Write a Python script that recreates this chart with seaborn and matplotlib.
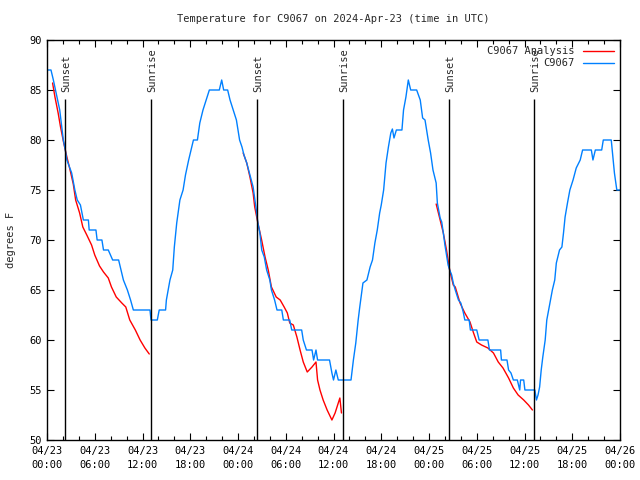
import numpy as np
import pandas as pd
import matplotlib
matplotlib.use("Agg")
import matplotlib.pyplot as plt
import matplotlib.dates as mdates
from matplotlib.lines import Line2D
import seaborn as sns

# Observed temperature (hours after 2024-04-23 00:00 UTC, degrees F)
obs_hours = [
    0.1, 0.5, 0.8, 1.2, 1.6, 2.05, 2.3, 2.5, 3.1, 3.5, 3.8, 4.2, 4.57, 5.2, 5.3,
    6.15, 6.3, 6.9, 7.1, 7.7, 8.25, 9.0, 9.3, 9.6, 10.1, 10.5, 10.85, 12.94,
    13.07, 13.86, 14.1, 14.9, 15.0, 15.45, 15.8, 16.0, 16.3, 16.7, 17.1, 17.4,
    17.8, 18.4, 18.9, 19.2, 19.6, 20.0, 20.4, 21.65, 21.95, 22.2, 22.7, 23.0,
    23.4, 23.8, 24.2, 24.5, 24.75, 25.1, 25.5, 25.9, 26.3, 26.5, 26.75, 26.98,
    27.3, 27.6, 28.0, 28.2, 28.6, 28.9, 29.5, 29.7, 30.5, 30.75, 32.0, 32.2,
    32.6, 33.3, 33.5, 33.8, 34.0, 35.5, 35.8, 36.0, 36.3, 36.6, 38.2, 38.5,
    38.8, 39.1, 39.3, 39.7, 40.2, 40.6, 40.9, 41.2, 41.5, 41.8, 42.0, 42.3,
    42.6, 42.9, 43.2, 43.4, 43.6, 43.9, 44.6, 44.8, 45.1, 45.4, 45.7, 46.45,
    46.9, 47.2, 47.5, 47.9, 48.2, 48.5, 48.9, 49.05, 49.4, 49.6, 49.8, 50.0,
    50.2, 50.4, 50.6, 50.85, 51.05, 51.3, 51.7, 52.0, 52.3, 52.5, 53.05, 53.2,
    54.0, 54.3, 55.4, 55.6, 57.0, 57.1, 57.8, 58.0, 58.3, 58.6, 59.1, 59.4,
    59.5, 59.9, 60.05, 61.3, 61.5, 61.7, 61.9, 62.1, 62.3, 62.6, 62.8, 63.2,
    63.5, 63.8, 64.0, 64.4, 64.7, 64.9, 65.1, 65.4, 65.7, 66.1, 66.5, 67.0,
    67.3, 68.4, 68.6, 68.9, 69.7, 69.9, 70.9, 71.1, 71.3, 71.6, 72.0,
]
obs_temps = [
    87, 87, 86, 84.5, 83, 80, 79, 78, 76.7, 75, 74, 73.5, 72, 72, 71,
    71, 70, 70, 69, 69, 68, 68, 67, 66, 65, 64, 63, 63,
    62, 62, 63, 63, 64, 66, 67, 69.3, 71.7, 74, 75, 76.5,
    78, 80, 80, 81.7, 83, 84, 85, 85, 86, 85, 85, 84,
    83, 82, 80, 79.3, 78.5, 77.7, 76.5, 75.3, 73, 71.7, 70.7, 69,
    68.3, 67, 66, 65, 64, 63, 63, 62, 62, 61, 61, 60,
    59, 59, 58, 59, 58, 58, 56.7, 56, 57, 56, 56, 58,
    59.7, 62, 63.3, 65.7, 66, 67.3, 68, 69.7, 71, 72.7, 73.5, 75,
    77.7, 79.3, 80.7, 81.1, 80.2, 81, 81, 83, 84.3, 86, 85, 85,
    84, 82.2, 82, 80, 78.7, 77, 75.7, 73.7, 72.2, 71.8, 70.7, 69.5,
    68.5, 67.5, 67, 66.5, 65.7, 65, 64, 63.7, 62.8, 62, 62, 61,
    61, 60, 60, 59, 59, 58, 58, 57, 56.7, 56, 56, 55,
    56, 56, 55, 55, 54, 54.5, 55.3, 57, 58.3, 60, 62, 63.7,
    65, 66, 67.7, 69, 69.3, 70.7, 72.3, 73.7, 75, 76, 77.2, 78,
    79, 79, 78, 79, 79, 80, 80, 78.3, 76.7, 75, 75,
]

# Analysis curve, three overnight segments
ana_seg1_hours = [0.7, 1.0, 1.4, 1.7, 2.1, 2.5, 2.9, 3.3, 3.6, 4.1, 4.5, 5.0, 5.6,
                  6.0, 6.6, 7.1, 7.7, 8.1, 8.7, 9.4, 9.9, 10.4, 11.1, 11.7, 12.3, 12.85]
ana_seg1_temps = [85.7, 84.3, 82.7, 81.3, 79.7, 78.3, 77, 75.6, 74, 72.7, 71.3, 70.5, 69.5,
                  68.5, 67.4, 66.8, 66.2, 65.3, 64.3, 63.7, 63.3, 62, 61, 60, 59.2, 58.6]
ana_seg2_hours = [24.65, 25.1, 25.5, 25.9, 26.1, 26.5, 26.97, 27.4, 27.8, 28.2, 28.8,
                  29.3, 29.8, 30.2, 30.5, 30.95, 31.4, 31.8, 32.2, 32.7, 33.3, 33.8,
                  34.0, 34.3, 34.7, 35.2, 35.8, 36.2, 36.6, 36.8, 37.0]
ana_seg2_temps = [78.7, 77.7, 76.3, 74.7, 73.3, 71.7, 70, 68.3, 67, 65.3, 64.3,
                  64, 63.3, 62.7, 61.7, 61.5, 60.3, 59, 57.8, 56.8, 57.3, 57.8,
                  56, 55, 54, 53, 52, 52.7, 53.7, 54.2, 52.7]
ana_seg3_hours = [48.9, 49.4, 49.8, 50.2, 50.6, 51.05, 51.3, 51.9, 52.5, 53.15, 53.6,
                  54.0, 54.6, 55.4, 56.1, 56.7, 57.3, 58.0, 58.6, 59.2, 59.9, 60.5, 61.0]
ana_seg3_temps = [73.6, 72, 70.7, 69, 67, 65.5, 65.3, 63.7, 62.7, 61.8, 60.7,
                  59.8, 59.5, 59.2, 58.7, 57.8, 57.2, 56.2, 55.2, 54.5, 54, 53.5, 53]

# Sunrise / sunset markers (hours after start)
sun_labels = ["Sunset", "Sunrise", "Sunset", "Sunrise", "Sunset", "Sunrise"]
sun_hours = [2.26, 13.1, 26.4, 37.2, 50.5, 61.2]

START = pd.Timestamp("2024-04-23 00:00")
END = pd.Timestamp("2024-04-26 00:00")

obs = pd.DataFrame({"hour": obs_hours, "temp": obs_temps})
obs["time"] = START + pd.to_timedelta(obs["hour"], unit="h")

segs = []
for i, (h, t) in enumerate([(ana_seg1_hours, ana_seg1_temps),
                            (ana_seg2_hours, ana_seg2_temps),
                            (ana_seg3_hours, ana_seg3_temps)]):
    segs.append(pd.DataFrame({"hour": h, "temp": t, "segment": i}))
ana = pd.concat(segs, ignore_index=True)
ana["time"] = START + pd.to_timedelta(ana["hour"], unit="h")

RED = "#ff0000"
BLUE = "#0080ff"
FONT = "DejaVu Sans Mono"

sns.set_style("ticks")
plt.rcParams["font.family"] = [FONT]
plt.rcParams["font.size"] = 7

fig = plt.figure(figsize=(6.4, 4.8), dpi=100)
ax = fig.add_axes([47 / 640, 40 / 480, 573 / 640, 400 / 480])

sns.lineplot(data=ana, x="time", y="temp", units="segment", estimator=None,
             sort=False, color=RED, linewidth=1, ax=ax)
sns.lineplot(data=obs, x="time", y="temp", estimator=None, sort=False,
             color=BLUE, linewidth=1, ax=ax)

# sunrise / sunset lines
for lab, h in zip(sun_labels, sun_hours):
    t = START + pd.Timedelta(hours=h)
    ax.vlines(t, 50, 84.1, color="black", linewidth=1)
    ax.text(t + pd.Timedelta(hours=0.15), 84.8, lab, rotation=90, ha="center",
            va="bottom", fontsize=7.5, family=FONT)

ax.set_xlim(START, END)
ax.set_ylim(50, 90)
ax.set_yticks(range(50, 91, 5))
ax.xaxis.set_major_locator(mdates.HourLocator(byhour=range(0, 24, 6)))
ax.xaxis.set_minor_locator(mdates.HourLocator(byhour=range(0, 24, 2)))
ax.xaxis.set_major_formatter(mdates.DateFormatter("%m/%d\n%H:%M"))
ax.tick_params(which="both", direction="in", top=True, right=True,
               labelsize=7.5, colors="black")
ax.tick_params(which="major", length=5, width=0.8, pad=4)
ax.tick_params(which="minor", length=3, width=0.8)
for lbl in ax.get_xticklabels():
    lbl.set_linespacing(1.5)
for sp in ax.spines.values():
    sp.set_color("black")
    sp.set_linewidth(1)

ax.set_xlabel("")
ax.set_ylabel("degrees F", fontsize=7.5, labelpad=9)

handles = [Line2D([], [], color=RED, linewidth=1),
           Line2D([], [], color=BLUE, linewidth=1)]
ax.legend(handles, ["C9067 Analysis", "C9067"], loc="upper right",
          frameon=False, markerfirst=False, fontsize=7.5, handlelength=3.0,
          handletextpad=0.8, labelspacing=0.2, borderaxespad=0.2)

fig.text(0.52, 1 - 19 / 480, "Temperature for C9067 on 2024-Apr-23 (time in UTC)",
         ha="center", va="center", fontsize=7.5, family=FONT)

fig.savefig("out.png", dpi=100)
